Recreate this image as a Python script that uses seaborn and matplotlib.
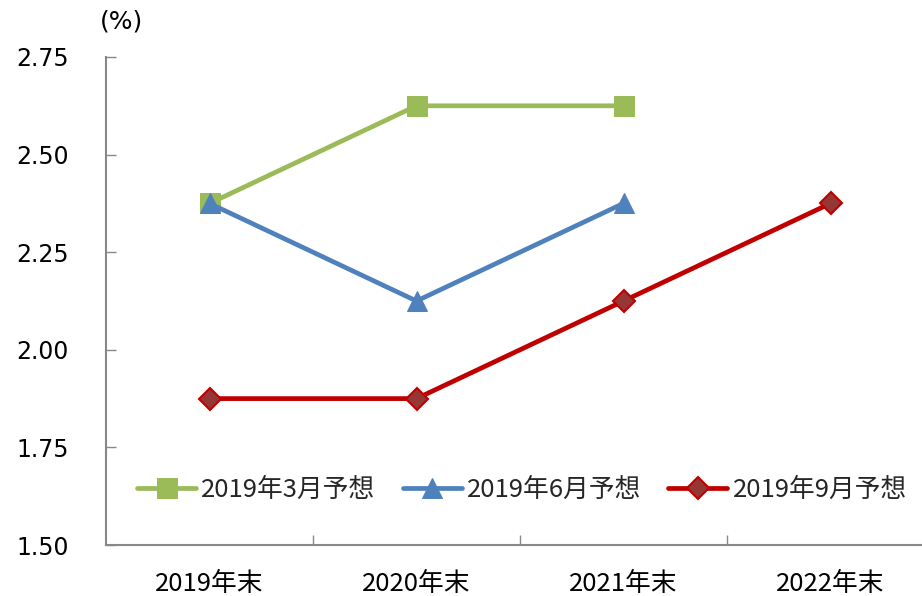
import matplotlib
matplotlib.use("Agg")
import matplotlib.pyplot as plt
import seaborn as sns
import pandas as pd

categories = ["2019年末", "2020年末", "2021年末", "2022年末"]
series_names = ["2019年3月予想", "2019年6月予想", "2019年9月予想"]
mar_values = [2.375, 2.625, 2.625]
jun_values = [2.375, 2.125, 2.375]
sep_values = [1.875, 1.875, 2.125, 2.375]
y_ticks = [1.50, 1.75, 2.00, 2.25, 2.50, 2.75]

sns.set_theme(style="white")
plt.rcParams["font.family"] = ["Noto Sans CJK JP", "DejaVu Sans"]

rows = []
for name, vals in zip(series_names, [mar_values, jun_values, sep_values]):
    for i, v in enumerate(vals):
        rows.append({"year": i, "value": v, "series": name})
df = pd.DataFrame(rows)

colors = {"2019年3月予想": "#9BBB59", "2019年6月予想": "#4F81BD", "2019年9月予想": "#C00000"}
markers = {"2019年3月予想": "s", "2019年6月予想": "^", "2019年9月予想": "D"}

fig = plt.figure(figsize=(9.22, 5.96), dpi=100)
ax = fig.add_axes([106 / 922, 51 / 596, 828 / 922, 488 / 596])

sns.lineplot(data=df, x="year", y="value", hue="series", style="series",
             palette=colors, markers=markers, dashes=False, linewidth=3.4,
             markersize=14, ax=ax, legend=True)

# marker faces/edges like the original
for line in ax.lines:
    c = line.get_color()
    line.set_markeredgecolor(c)
    line.set_markerfacecolor(c)
    line.set_solid_capstyle("round")
for l in ax.lines:
    if l.get_marker() == "D":
        l.set_markerfacecolor("#953735")
        l.set_markersize(11)
        l.set_markeredgewidth(1.5)

ax.set_xlim(-0.5, 3.5)
ax.set_ylim(1.50, 2.75)
ax.set_yticks(y_ticks)
ax.set_yticklabels([f"{t:.2f}" for t in y_ticks])
for lab in ax.get_yticklabels():
    lab.set_family("DejaVu Sans")
    lab.set_fontsize(17)
    lab.set_color("black")
ax.set_xticks([0.5, 1.5, 2.5])
ax.set_xticklabels([])
for i, c in enumerate(categories):
    ax.text(i, 1.50 - 0.1, c, ha="center", va="center", fontsize=18.5, color="black")
ax.tick_params(axis="both", direction="in", length=7, width=1, color="#888888",
               left=True, bottom=True)
ax.tick_params(axis="y", pad=27)
ax.set_xlabel("")
ax.set_ylabel("")
for s in ["top", "right"]:
    ax.spines[s].set_visible(False)
for s in ["left", "bottom"]:
    ax.spines[s].set_color("#888888")
    ax.spines[s].set_linewidth(1.5)

fig.text(121 / 922, 1 - 22 / 596, "(%)", ha="center", va="center", fontsize=18,
         family="DejaVu Sans", color="black")

handles, labels = ax.get_legend_handles_labels()
ax.legend(handles, labels, ncol=3, frameon=False, fontsize=18.5, loc="center",
          bbox_to_anchor=((522 - 106) / 828, (596 - 490 - 51) / 488),
          handlelength=2.3, columnspacing=1.05, handletextpad=0.2)

fig.savefig("out.png", dpi=100)
